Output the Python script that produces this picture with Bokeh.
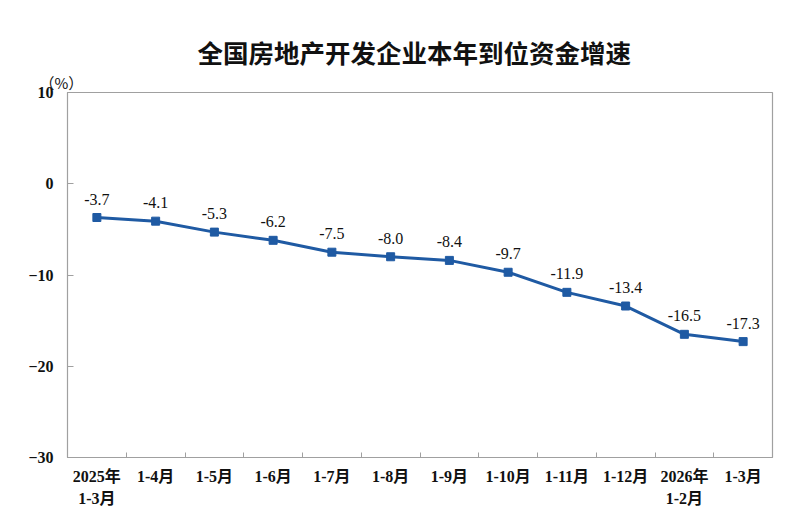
from bokeh.plotting import figure
from bokeh.models import Range1d, FixedTicker, Title, ColumnDataSource
from bokeh.embed import file_html
from bokeh.resources import INLINE

categories = ["2025年\n1-3月", "1-4月", "1-5月", "1-6月", "1-7月", "1-8月",
              "1-9月", "1-10月", "1-11月", "1-12月", "2026年\n1-2月", "1-3月"]
values = [-3.7, -4.1, -5.3, -6.2, -7.5, -8.0, -8.4, -9.7, -11.9, -13.4, -16.5, -17.3]
y_ticks = [-30, -20, -10, 0, 10]
title_text = "全国房地产开发企业本年到位资金增速"
unit_text = "（%）"

n = len(categories)
xs = [i + 0.5 for i in range(n)]
labels = [f"{v:.1f}" for v in values]
src = ColumnDataSource(dict(x=xs, y=values, lab=labels))

SERIF = "'Liberation Serif', 'Noto Sans CJK SC'"
BLUE = "#1f5aa3"
GRAY = "#a0a0a0"

p = figure(width=792, height=510, output_backend="svg", toolbar_location=None,
           x_range=Range1d(0, n), y_range=Range1d(-30, 10),
           min_border_left=67, min_border_right=20, min_border_top=92,
           min_border_bottom=47)
p.background_fill_color = "white"
p.border_fill_color = "white"
p.outline_line_color = GRAY
p.outline_line_width = 1.2
p.grid.visible = False

# x axis
p.xaxis.ticker = FixedTicker(ticks=xs, minor_ticks=list(range(1, n)))
p.xaxis.major_label_overrides = {x: c for x, c in zip(xs, categories)}
p.xaxis.major_tick_line_color = None
p.xaxis.minor_tick_in = 5
p.xaxis.minor_tick_out = 0
p.xaxis.minor_tick_line_color = GRAY
p.xaxis.axis_line_color = GRAY
p.xaxis.major_label_text_font = SERIF
p.xaxis.major_label_text_font_style = "bold"
p.xaxis.major_label_text_font_size = "16px"
p.xaxis.major_label_text_line_height = 1.35
p.xaxis.major_label_text_color = "#111111"
p.xaxis.major_label_standoff = 4

# y axis
p.yaxis.ticker = FixedTicker(ticks=y_ticks)
p.yaxis.major_tick_in = 6
p.yaxis.major_tick_out = 0
p.yaxis.major_tick_line_color = GRAY
p.yaxis.minor_tick_line_color = None
p.yaxis.axis_line_color = GRAY
p.yaxis.major_label_text_font = SERIF
p.yaxis.major_label_text_font_style = "bold"
p.yaxis.major_label_text_font_size = "16px"
p.yaxis.major_label_text_color = "#111111"
p.yaxis.major_label_standoff = 14

p.line("x", "y", source=src, line_color=BLUE, line_width=3)
p.scatter("x", "y", source=src, marker="square", size=8, color=BLUE)
p.text("x", "y", text="lab", source=src, y_offset=-13,
       text_align="center", text_baseline="bottom",
       text_font_size="16px", text_color="#111111",
       text_font={"value": "Liberation Serif"})

# top spacer (outermost panel)
p.title.text = " "
p.title.text_font_size = "1px"
p.title.standoff = 1.6

main_title = Title(text=title_text, align="left", offset=130, standoff=0,
                   text_font="Noto Sans CJK SC", text_font_style="bold",
                   text_font_size="25.5px", text_color="#111111")
unit_title = Title(text=unit_text, align="left", offset=-28, standoff=0,
                   text_font="Noto Sans CJK SC", text_font_style="normal",
                   text_font_size="15px", text_color="#111111")
p.add_layout(unit_title, "above")
p.add_layout(main_title, "above")

open("out.html", "w").write(file_html(p, INLINE))
